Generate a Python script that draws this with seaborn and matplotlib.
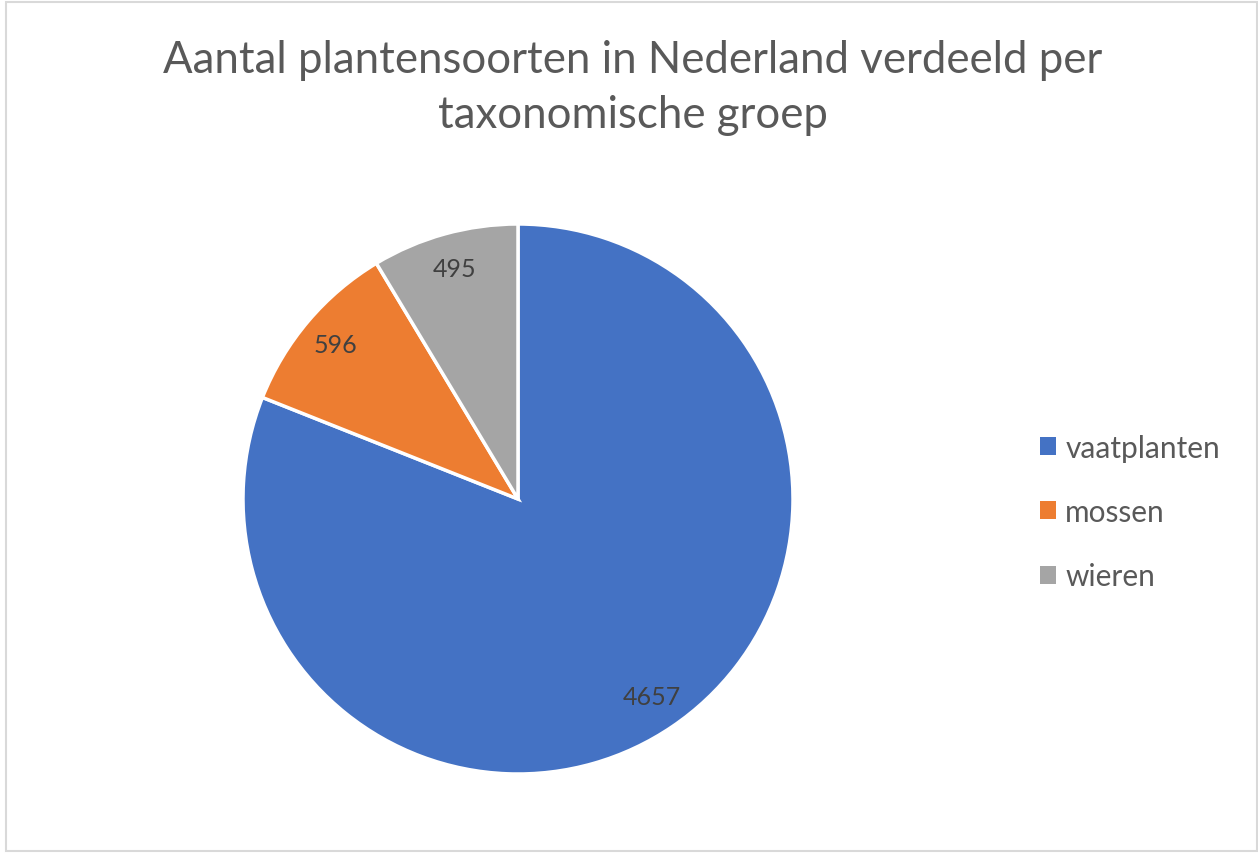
import matplotlib
matplotlib.use('Agg')
import matplotlib.pyplot as plt
import seaborn as sns
from matplotlib.patches import Rectangle

# data
groepen = ['vaatplanten', 'mossen', 'wieren']
aantallen = [4657, 596, 495]
kleuren = ['#4472C4', '#ED7D31', '#A5A5A5']

sns.set_theme(style='white')
plt.rcParams['font.family'] = ['Lato', 'DejaVu Sans']

fig = plt.figure(figsize=(12.58, 8.54), dpi=100)
fig.patch.set_facecolor('white')

# chart area border
fig.patches.append(Rectangle((6 / 1258, 1 - 852 / 854), 1251 / 1258, 849 / 854,
                             transform=fig.transFigure, fill=False,
                             edgecolor='#D9D9D9', linewidth=1.5))

# pie centered at (518, 500), radius 275 px
r = 275
ax = fig.add_axes([(518 - r) / 1258, 1 - (500 + r) / 854, 2 * r / 1258, 2 * r / 854])
wedges, texts, autotexts = ax.pie(
    aantallen, colors=kleuren, startangle=90, counterclock=False,
    autopct=lambda p: f'{round(p * sum(aantallen) / 100):d}',
    pctdistance=0.87, radius=1,
    wedgeprops=dict(edgecolor='white', linewidth=2.5),
    textprops=dict(color='#404040', fontsize=18))
ax.set_aspect('equal')
ax.set_xlim(-1, 1)
ax.set_ylim(-1, 1)

fig.text(633 / 1258, 1 - 88 / 854, 'Aantal plantensoorten in Nederland verdeeld per\ntaxonomische groep',
         ha='center', va='center', fontsize=31.5, color='#595959', linespacing=1.45)

leg = fig.legend(wedges, groepen, loc='center left', bbox_to_anchor=(1013 / 1258, 1 - 513 / 854),
                 frameon=False, fontsize=21.5, labelcolor='#595959',
                 handlelength=0.55, handleheight=0.55, handletextpad=0.3, labelspacing=1.22)
for h in leg.legend_handles:
    h.set_edgecolor('none')

fig.savefig('out.png', dpi=100, facecolor='white')
